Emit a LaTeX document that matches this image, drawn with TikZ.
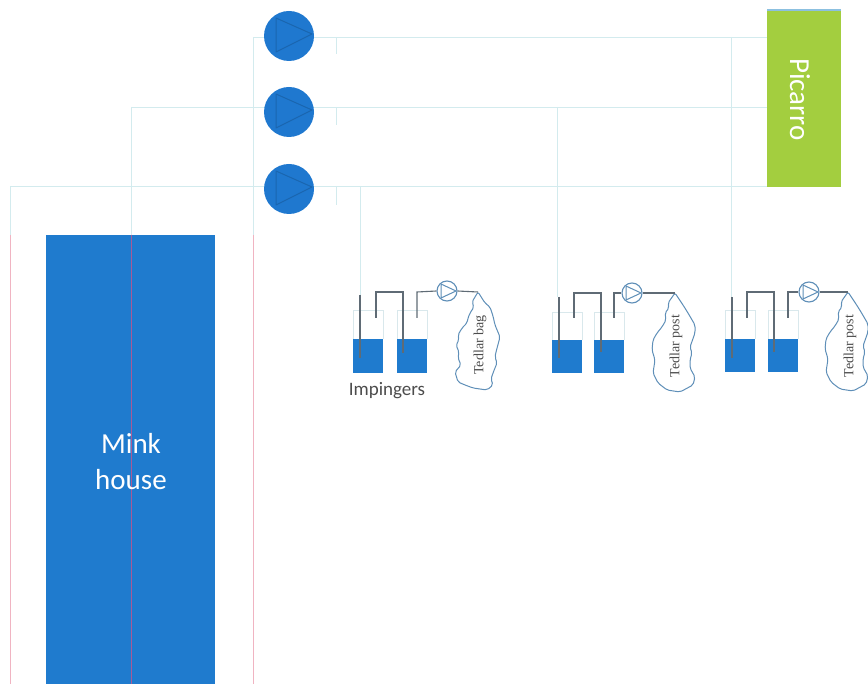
\documentclass[tikz,border=0pt]{standalone}
\usepackage{fontspec}
\setmainfont{Carlito}
\newfontfamily\serifbag{Liberation Serif}
\definecolor{fluid}{HTML}{1F7BCE}
\definecolor{pumpblue}{HTML}{1F78CF}
\definecolor{pumpedge}{HTML}{1A66B0}
\definecolor{picgreen}{HTML}{A3CE3F}
\definecolor{picedge}{HTML}{8CC0E0}
\definecolor{paleline}{HTML}{D3EBEE}
\definecolor{pinkline}{HTML}{F0B4C2}
\definecolor{minkline}{HTML}{A85A96}
\definecolor{darkpipe}{HTML}{5F6B75}
\definecolor{glass}{HTML}{D9E8EC}
\definecolor{bagline}{HTML}{5F8FB8}
\tikzset{
  x=1pt,y=-1pt,
  gasline/.style={draw=paleline,line width=0.9pt},
  pinkpipe/.style={draw=pinkline,line width=0.8pt},
  pipe/.style={draw=darkpipe,line width=1.1pt},
  glassbox/.style={draw=glass,line width=0.8pt},
  liquid/.style={fill=fluid,draw=none},
  bigpump/.style={circle,fill=pumpblue,draw=none,minimum size=50pt,inner sep=0pt},
  smallpump/.style={circle,fill=white,draw=bagline,line width=1.1pt,minimum size=20pt,inner sep=0pt},
  bagshape/.style={draw=bagline,line width=1pt,fill=white,rounded corners=2pt},
  baglabel/.style={font=\serifbag\fontsize{14}{14}\selectfont,text=black!70,rotate=90},
}
\begin{document}
\begin{tikzpicture}
\useasboundingbox (0,0) rectangle (868,684);
\clip (0,0) rectangle (868,684);

% named junctions and ends
\coordinate (topleft) at (253,37);
\coordinate (midleft) at (131,107);
\coordinate (lowleft) at (10,186);
\coordinate (picT) at (767,37);
\coordinate (picM) at (767,107);
\coordinate (picL) at (767,186);
\coordinate (pinkA) at (10,235);
\coordinate (pinkB) at (131,235);
\coordinate (pinkC) at (253,235);
\coordinate (endA) at (10,684);
\coordinate (endB) at (131,684);
\coordinate (endC) at (253,684);
\coordinate (t1a) at (336,37);  \coordinate (t1b) at (336,54);
\coordinate (t2a) at (336,107); \coordinate (t2b) at (336,125);
\coordinate (t3a) at (336,186); \coordinate (t3b) at (336,205);
\coordinate (s1a) at (360,186); \coordinate (s1b) at (360,295);
\coordinate (s2a) at (557,107); \coordinate (s2b) at (557,297);
\coordinate (s3a) at (731,37);  \coordinate (s3b) at (731,297);

% pale gas lines
\draw[gasline] (topleft) -- (picT);
\draw[gasline] (midleft) -- (picM);
\draw[gasline] (lowleft) -- (picL);
\draw[gasline] (topleft) -- (pinkC);
\draw[gasline] (midleft) -- (pinkB);
\draw[gasline] (lowleft) -- (pinkA);
\draw[gasline] (t1a) -- (t1b);
\draw[gasline] (t2a) -- (t2b);
\draw[gasline] (t3a) -- (t3b);
\draw[gasline] (s1a) -- (s1b);
\draw[gasline] (s2a) -- (s2b);
\draw[gasline] (s3a) -- (s3b);

% Mink house
\node[fill=fluid,draw=none,minimum width=169pt,minimum height=449pt,inner sep=0pt,anchor=north west] (mink) at (46,235) {};
\draw[pinkpipe] (pinkA) -- (endA);
\draw[pinkpipe] (pinkC) -- (endC);
\draw[draw=minkline,line width=0.9pt] (pinkB) -- (endB);
\node[text=white,align=center,font=\fontsize{29}{36}\selectfont] (minklabel) at (131,462) {Mink\\house};

% Picarro
\node[fill=picgreen,draw=none,minimum width=74pt,minimum height=177pt,inner sep=0pt,anchor=north west] (picarro) at (767,10) {};
\draw[draw=picedge,line width=1.2pt] (picarro.north west) -- (picarro.north east);
\node[text=white,rotate=-90,font=\fontsize{29}{29}\selectfont] (piclabel) at (800,99.5) {Picarro};

% Main pumps
\foreach \n/\y in {pa/36,pb/112,pc/189}{
  \node[bigpump] (\n) at (289,\y) {};
  \draw[draw=pumpedge,line width=1pt,line join=round] (276,\y-18) -- (312,\y-2) -- (276,\y+16) -- cycle;
}

% Impinger bottles
\foreach \n/\xa/\xb/\yt/\yl/\yb in {a1/353/383/310/339/373,a2/397/427/310/339/373,
                                     b1/552/582/312/340/373,b2/594/624/312/340/373,
                                     c1/725/755/310/339/372,c2/768/798/310/339/372}{
  \draw[glassbox] (\xa,\yl) -- (\xa,\yt) -- (\xb,\yt) -- (\xb,\yl);
  \fill[liquid] (\xa,\yl) rectangle (\xb,\yb);
}

% Tedlar bags
\draw[bagshape] (478,292) -- (472,302) -- (474,307) -- (470,313) -- (468,318) -- (467,323) -- (462,328) -- (458,335) -- (459,340) -- (456,345) -- (459,352) -- (458,358) -- (461,365) -- (455,372) -- (458,382) -- (465,385) -- (473,388) -- (487,390) -- (493,385) -- (491,379) -- (493,373) -- (497,363) -- (495,357) -- (496,352) -- (500,337) -- (495,325) -- (493,316) -- (490,307) -- (485,303) -- cycle;
\draw[bagshape] (675,293) -- (668,303) -- (669,308) -- (665,313) -- (666,320) -- (662,327) -- (657,333) -- (653,340) -- (652,350) -- (655,360) -- (653,373) -- (658,383) -- (667,390) -- (680,392) -- (693,385) -- (695,377) -- (690,368) -- (690,360) -- (692,353) -- (690,347) -- (695,333) -- (695,325) -- (688,313) -- (683,305) -- cycle;
\draw[bagshape] (848,292) -- (841,302) -- (842,307) -- (838,312) -- (839,319) -- (835,326) -- (830,332) -- (826,339) -- (825,349) -- (828,359) -- (826,372) -- (831,382) -- (840,389) -- (853,391) -- (866,384) -- (868,376) -- (863,367) -- (863,359) -- (865,352) -- (863,346) -- (868,332) -- (868,324) -- (861,312) -- (856,304) -- cycle;

% Pipes of each train
\coordinate (ta1) at (360,295); \coordinate (ta2) at (360,358);
\coordinate (tb1) at (559,297); \coordinate (tb2) at (559,358);
\coordinate (tc1) at (732,297); \coordinate (tc2) at (732,358);
\draw[pipe] (ta1) -- (ta2);
\draw[pipe] (tb1) -- (tb2);
\draw[pipe] (tc1) -- (tc2);
\draw[pipe] (376,318) -- (376,292) -- (403,292) -- (403,353);
\draw[pipe] (574,318) -- (574,293) -- (601,293) -- (601,352);
\draw[pipe] (747,318) -- (747,292) -- (774,292) -- (774,352);

\node[smallpump] (qa) at (447,291) {};
\node[smallpump] (qb) at (632,293) {};
\node[smallpump] (qc) at (809,292) {};
\coordinate (bagA) at (478,292);
\coordinate (bagB) at (675,293);
\coordinate (bagC) at (848,292);
\draw[pipe] (417,318) -- (417,292) -- (qa.west);
\draw[pipe] (614,318) -- (614,293) -- (qb.west);
\draw[pipe] (788,318) -- (788,292) -- (qc.west);
\draw[pipe] (qa.east) -- (bagA);
\draw[pipe] (qb.east) -- (bagB);
\draw[pipe] (qc.east) -- (bagC);
\foreach \q in {qa,qb,qc}{
  \draw[draw=bagline,line width=1pt,line join=round] ([xshift=-6pt,yshift=7pt]\q.center) -- ([xshift=9pt]\q.center) -- ([xshift=-6pt,yshift=-7pt]\q.center) -- cycle;
}

% Labels
\node[text=black!70,font=\fontsize{19}{19}\selectfont] (implabel) at (387,391) {Impingers};
\node[baglabel] (bagAlabel) at (480,345) {Tedlar bag};
\node[baglabel] (bagBlabel) at (676,346) {Tedlar post};
\node[baglabel] (bagClabel) at (850,346) {Tedlar post};
\end{tikzpicture}
\end{document}
